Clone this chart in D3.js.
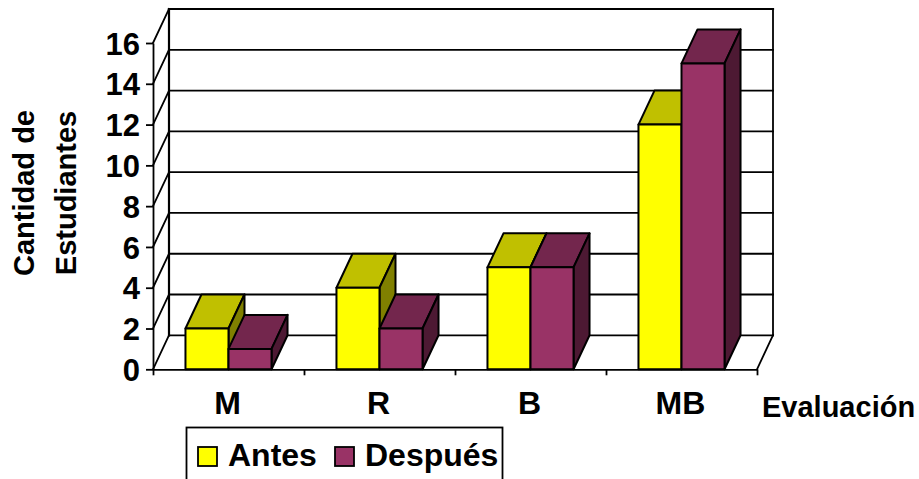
<!DOCTYPE html>
<html>
<head>
<meta charset="utf-8">
<script src="https://d3js.org/d3.v7.min.js"></script>
<style>
  body { margin: 0; background: #fff; }
  svg { display: block; }
  text { font-family: "Liberation Sans", Arial, sans-serif; font-weight: bold; fill: #000; }
</style>
</head>
<body>
<svg id="chart" width="919" height="479"></svg>
<script>
var categories = ["M", "R", "B", "MB"];
var seriesNames = ["Antes", "Después"];
var antes = [2, 4, 5, 12];
var despues = [1, 2, 5, 15];
var yTicks = [0, 2, 4, 6, 8, 10, 12, 14, 16];
var yTitleLines = ["Cantidad de", "Estudiantes"];
var xTitle = "Evaluación";

var plotLeft = 153, plotRight = 757, plotBottom = 369.3, plotTop = 43;
var depthX = 16, depthY = -34;
var fontSize = 32;

// face colours per series: front, top, side
var colors = [
    { front: "#ffff00", top: "#c0c000", side: "#808000" },
    { front: "#993366", top: "#73264d", side: "#4d1933" }
];

var svg = d3.select("#chart");

var x = d3.scaleBand().domain(categories).range([plotLeft, plotRight]).paddingInner(0.43).paddingOuter(0.215);
var xSeries = d3.scaleBand().domain(seriesNames).range([0, x.bandwidth()]);
var y = d3.scaleLinear().domain([0, 16]).range([plotBottom, plotTop]);

var line = function (x1, y1, x2, y2, width)
{
    svg.append("line")
        .attr("x1", x1).attr("y1", y1)
        .attr("x2", x2).attr("y2", y2)
        .attr("stroke", "#000")
        .attr("stroke-width", width || 1.8)
        .attr("stroke-linecap", "square");
};

// back wall grid lines and the diagonals on the side wall
yTicks.forEach(function (t)
{
    line(plotLeft + depthX, y(t) + depthY, plotRight + depthX, y(t) + depthY, t == 16 ? 2.2 : 1.8);
    line(plotLeft, y(t), plotLeft + depthX, y(t) + depthY);
});
line(plotLeft + depthX, y(0) + depthY, plotLeft + depthX, y(16) + depthY, 2.2);
line(plotRight + depthX, y(0) + depthY, plotRight + depthX, y(16) + depthY);
line(plotRight, y(0), plotRight + depthX, y(0) + depthY);

// axes
var yAxis = svg.append("g")
    .attr("transform", "translate(" + plotLeft + ",0)")
    .call(d3.axisLeft(y).tickValues(yTicks).tickSize(7).tickSizeOuter(0).tickPadding(6));
yAxis.selectAll("path, line").attr("stroke", "#000").attr("stroke-width", 1.8);
yAxis.selectAll("text").style("font-size", "31px").attr("dy", "0.36em");

var xAxisScale = d3.scaleLinear().domain([0, categories.length]).range([plotLeft, plotRight]);
var xAxis = svg.append("g")
    .attr("transform", "translate(0," + plotBottom + ")")
    .call(d3.axisBottom(xAxisScale).tickValues(d3.range(categories.length + 1)).tickSize(6).tickSizeOuter(0).tickFormat(""));
xAxis.selectAll("path, line").attr("stroke", "#000").attr("stroke-width", 1.8);

svg.append("g")
    .selectAll("text")
    .data(categories)
    .enter().append("text")
    .attr("x", function (d) { return x(d) + x.bandwidth() / 2 - 1; })
    .attr("y", 414)
    .attr("text-anchor", "middle")
    .style("font-size", fontSize + "px")
    .text(function (d) { return d; });

// bars, one series after the other so Después covers the side of Antes
[antes, despues].forEach(function (values, s)
{
    var name = seriesNames[s];
    var g = svg.append("g").attr("stroke", "#000").attr("stroke-width", 2).attr("stroke-linejoin", "round");
    categories.forEach(function (c, i)
    {
        var x0 = x(c) + xSeries(name), x1 = x0 + xSeries.bandwidth();
        var y0 = y(0), y1 = y(values[i]);
        var face = function (pts, fill)
        {
            g.append("polygon").attr("points", pts.join(" ")).attr("fill", fill);
        };
        face([[x0, y1], [x1, y1], [x1 + depthX, y1 + depthY], [x0 + depthX, y1 + depthY]], colors[s].top);
        face([[x1, y0], [x1, y1], [x1 + depthX, y1 + depthY], [x1 + depthX, y0 + depthY]], colors[s].side);
        face([[x0, y0], [x1, y0], [x1, y1], [x0, y1]], colors[s].front);
    });
});

// axis titles
svg.append("text")
    .attr("x", 762).attr("y", 417)
    .style("font-size", "29px")
    .text(xTitle);

yTitleLines.forEach(function (t, i)
{
    svg.append("text")
        .attr("transform", "translate(" + (34 + i * 42) + ",193) rotate(-90)")
        .attr("text-anchor", "middle")
        .style("font-size", "29px")
        .text(t);
});

// legend, the box runs past the bottom edge of the picture
svg.append("rect")
    .attr("x", 186.5).attr("y", 427.5)
    .attr("width", 316).attr("height", 70)
    .attr("fill", "#fff").attr("stroke", "#000").attr("stroke-width", 1.8);

var legendX = d3.scalePoint().domain(seriesNames).range([198, 335]);
var legend = svg.append("g").selectAll("g")
    .data(seriesNames)
    .enter().append("g")
    .attr("transform", function (d) { return "translate(" + legendX(d) + ",447)"; });
legend.append("rect")
    .attr("width", 19).attr("height", 19)
    .attr("fill", function (d, i) { return colors[i].front; })
    .attr("stroke", "#000").attr("stroke-width", 1.8);
legend.append("text")
    .attr("x", 30).attr("y", 19)
    .style("font-size", "32px")
    .text(function (d) { return d; });
</script>
</body>
</html>
